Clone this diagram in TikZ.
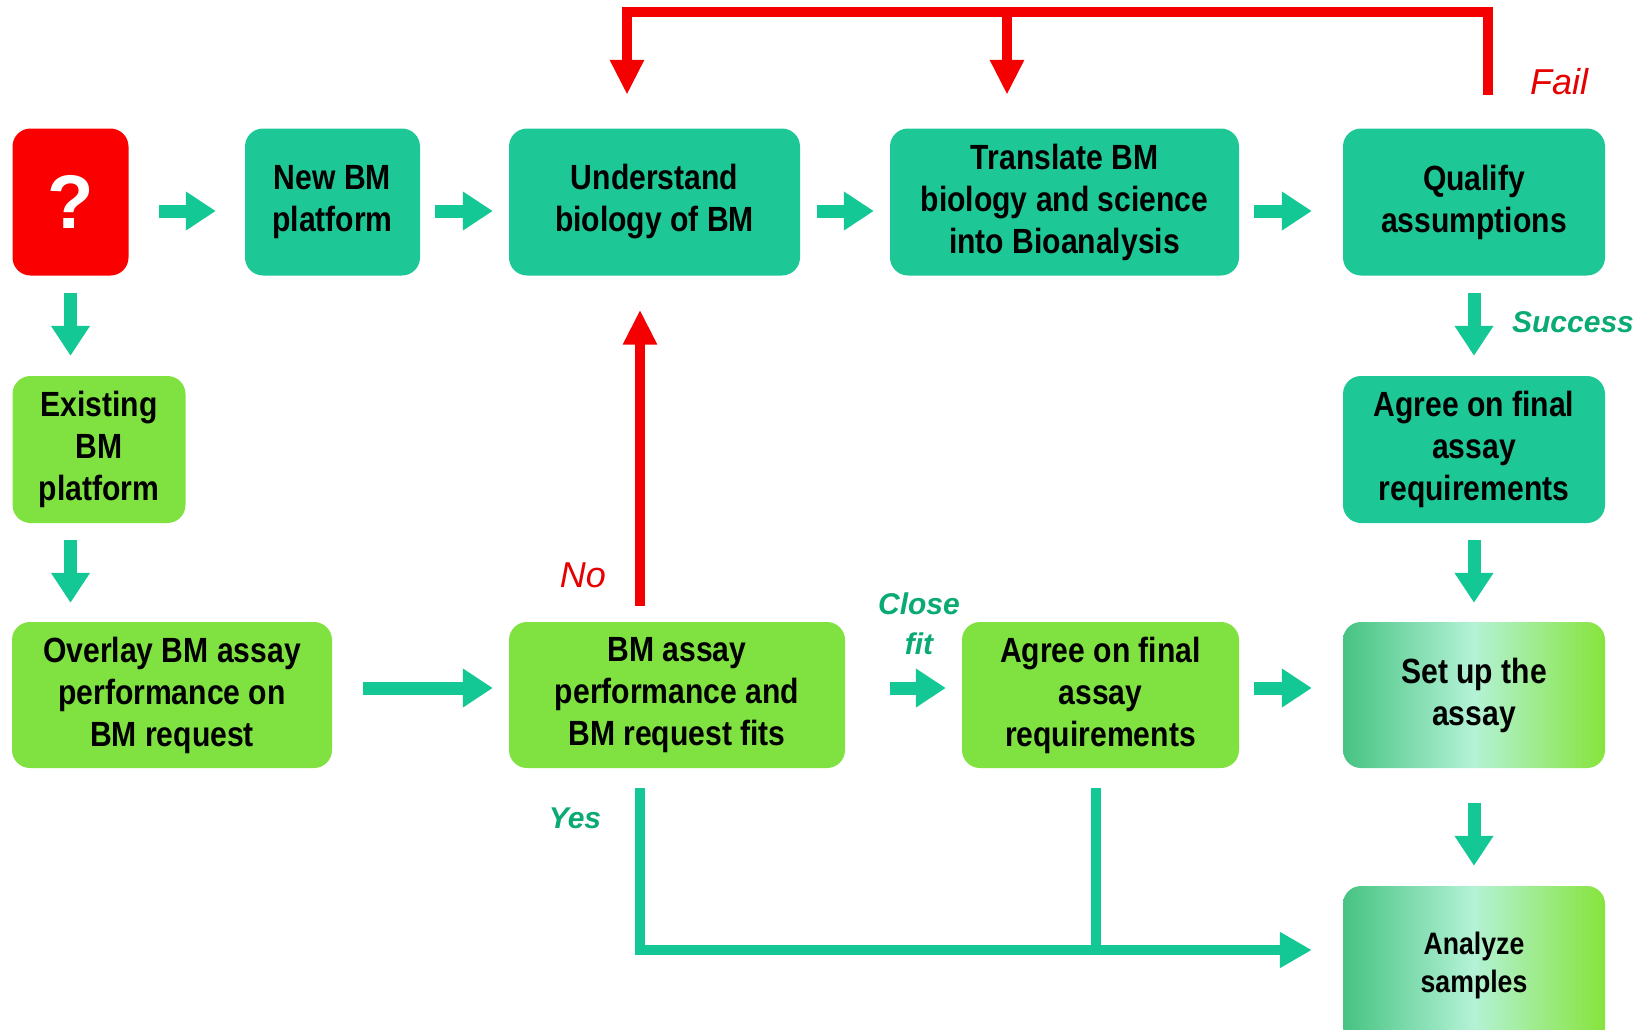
\documentclass[tikz,border=0pt]{standalone}
\usepackage{fontspec}
\setmainfont{Liberation Sans}
\newfontfamily\boxfont{Liberation Sans}[FakeStretch=0.86]
\usetikzlibrary{arrows.meta,calc}

\definecolor{boxteal}{RGB}{30,200,150}
\definecolor{boxlime}{RGB}{128,226,64}
\definecolor{boxred}{RGB}{250,0,0}
\definecolor{arrteal}{RGB}{20,200,150}
\definecolor{arrred}{RGB}{245,0,0}
\definecolor{gradL}{RGB}{70,195,130}
\definecolor{gradM}{RGB}{180,242,214}
\definecolor{gradR}{RGB}{134,228,60}
\definecolor{lblgreen}{RGB}{10,170,115}
\definecolor{lblred}{RGB}{230,0,0}

\begin{document}
\begin{tikzpicture}[x=1pt,y=-1pt,
  box/.style={rounded corners=18pt, inner sep=0pt, align=center,
    font=\boxfont\bfseries\fontsize{35}{42}\selectfont, text=black},
  tealbox/.style={box, fill=boxteal},
  limebox/.style={box, fill=boxlime},
  gradbox/.style={box, left color=gradL, right color=gradR, middle color=gradM},
  barrow/.style={draw=arrteal, line width=13pt, -{Triangle[length=30pt,width=37pt]}},
  gline/.style={draw=arrteal, line width=10pt},
  garrow/.style={gline, -{Triangle[length=32pt,width=34pt]}},
  redarrow/.style={draw=arrred, line width=10.5pt, -{Triangle[length=35pt,width=32pt]}},
  lbl/.style={font=\bfseries\itshape\fontsize{30}{40}\selectfont, align=center},
  biglbl/.style={font=\itshape\fontsize{36}{40}\selectfont, align=center}
]
\useasboundingbox (0,0) rectangle (1652,1029);
\clip (0,0) rectangle (1652,1029);

% top row
\node[box, fill=boxred, minimum width=116pt, minimum height=147pt,
      font=\bfseries\fontsize{76}{80}\selectfont, text=white] (q) at (70.5,202) {?};
\node[tealbox, minimum width=175pt, minimum height=147pt] (new) at (332.5,202) {New BM\\platform};
\node[tealbox, minimum width=291pt, minimum height=147pt] (und) at (654.5,202) {Understand\\biology of BM};
\node[tealbox, minimum width=349pt, minimum height=147pt] (tra) at (1064.5,202) {Translate BM\\biology and science\\into Bioanalysis};
\node[tealbox, minimum width=262pt, minimum height=147pt] (qua) at (1474,202) {Qualify\\assumptions};

% middle row
\node[limebox, minimum width=173pt, minimum height=147pt] (exi) at (99,449.5) {Existing\\BM\\platform};
\node[tealbox, minimum width=262pt, minimum height=147pt] (agr1) at (1474,449.5) {Agree on final\\assay\\requirements};

% bottom row
\node[limebox, minimum width=320pt, minimum height=146pt] (ovl) at (172,695) {Overlay BM assay\\performance on\\BM request};
\node[limebox, minimum width=336pt, minimum height=146pt] (bma) at (677,695) {BM assay\\performance and\\BM request fits};
\node[limebox, minimum width=277pt, minimum height=146pt] (agr2) at (1100.5,695) {Agree on final\\assay\\requirements};
\node[gradbox, minimum width=262pt, minimum height=146pt] (set) at (1474,695) {Set up the\\assay};
\node[gradbox, minimum width=262pt, minimum height=159pt,
      font=\boxfont\bfseries\fontsize{31}{38}\selectfont] (ana) at (1474,965.5) {Analyze\\samples};

% horizontal block arrows
\draw[barrow, shorten <=30pt, shorten >=29pt] ([yshift=-9pt]q.east) -- ([yshift=-9pt]new.west);
\draw[barrow, shorten <=15pt, shorten >=16pt] ([yshift=-9pt]new.east) -- ([yshift=-9pt]und.west);
\draw[barrow, shorten <=17pt, shorten >=16pt] ([yshift=-9pt]und.east) -- ([yshift=-9pt]tra.west);
\draw[barrow, shorten <=15pt, shorten >=31pt] ([yshift=-9pt]tra.east) -- ([yshift=-9pt]qua.west);
\draw[barrow, shorten <=31pt, shorten >=16pt] ([yshift=7pt]ovl.east) -- ([yshift=7pt]bma.west);
\draw[barrow, shorten <=45pt, shorten >=16pt] ([yshift=7pt]bma.east) -- ([yshift=7pt]agr2.west);
\draw[barrow, shorten <=15pt, shorten >=31pt] ([yshift=7pt]agr2.east) -- ([yshift=7pt]set.west);

% vertical block arrows
\draw[barrow, shorten <=17pt, shorten >=20pt] (q.south) -- (q.south |- exi.north);
\draw[barrow, shorten <=17pt, shorten >=19pt] (q.south |- exi.south) -- (q.south |- ovl.north);
\draw[barrow, shorten <=17pt, shorten >=20pt] (qua.south) -- (agr1.north);
\draw[barrow, shorten <=17pt, shorten >=19pt] (agr1.south) -- (set.north);
\draw[barrow, shorten <=35pt, shorten >=20pt] (set.south) -- (ana.north);

% failure loop back to the top
\coordinate (toprail) at (0,12);
\coordinate (lQ) at ([xshift=14pt,yshift=33.5pt]qua.north);
\coordinate (lU) at ([xshift=-27.5pt,yshift=33.5pt]und.north);
\coordinate (lT) at ([xshift=-57.5pt,yshift=33.5pt]tra.north);
\draw[redarrow] (lQ) -- (lQ |- toprail) -- (lU |- toprail) -- (lU);
\draw[redarrow] (lT |- toprail) -- (lT);

% no fit: back to biology
\draw[redarrow] ([xshift=-37pt,yshift=16pt]bma.north) -- ([xshift=-14.5pt,yshift=-34pt]und.south);

% fits: straight to analysis
\coordinate (yA) at ([xshift=-37pt,yshift=-20pt]bma.south);
\coordinate (yB) at ([xshift=-4.5pt,yshift=-20pt]agr2.south);
\coordinate (yE) at ([xshift=-31pt,yshift=15.5pt]ana.west);
\draw[gline] (yB) -- (yB |- yE);
\draw[garrow] (yA) |- (yE);

% labels
\node[biglbl, text=lblred] (lfail) at (1559,82) {Fail};
\node[lbl, text=lblgreen] (lsucc) at (1573,322) {Success};
\node[biglbl, text=lblred] (lno) at (583,575) {No};
\node[lbl, text=lblgreen] (lclose) at (919,624) {Close\\fit};
\node[lbl, text=lblgreen] (lyes) at (575,818) {Yes};
\end{tikzpicture}
\end{document}
